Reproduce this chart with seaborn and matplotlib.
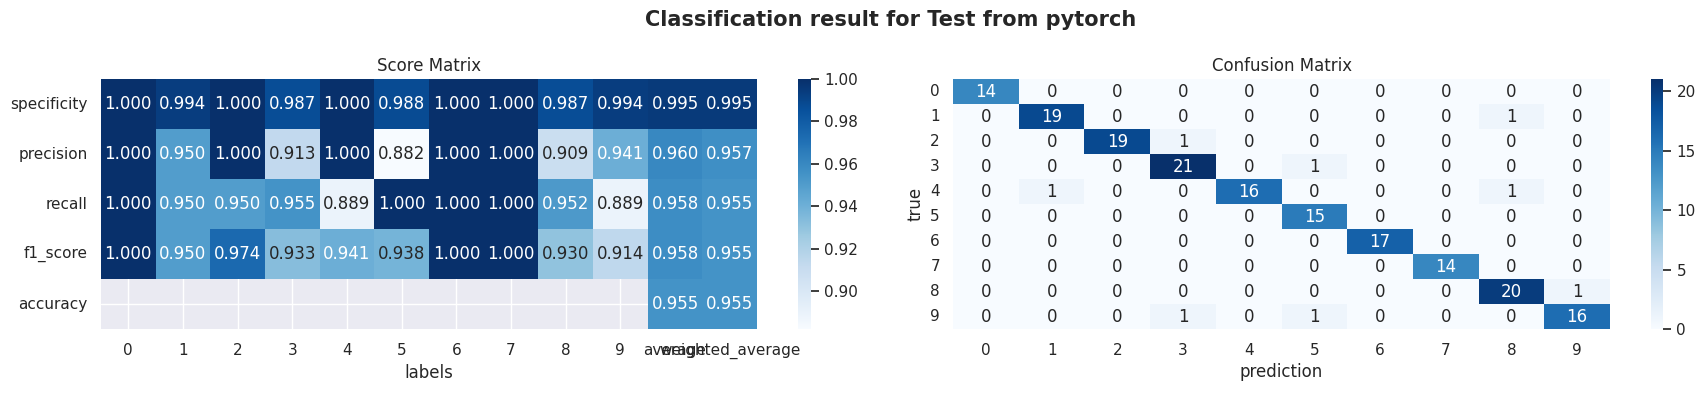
import numpy as np
import pandas as pd
import matplotlib
matplotlib.use('Agg')
import matplotlib.pyplot as plt
import seaborn as sns

sns.set_theme(style='darkgrid')

metrics = ['specificity', 'precision', 'recall', 'f1_score', 'accuracy']
labels = ['0', '1', '2', '3', '4', '5', '6', '7', '8', '9', 'average', 'weighted_average']

specificity = [1.000, 0.994, 1.000, 0.987, 1.000, 0.988, 1.000, 1.000, 0.987, 0.994, 0.995, 0.995]
precision = [1.000, 0.950, 1.000, 0.913, 1.000, 0.882, 1.000, 1.000, 0.909, 0.941, 0.960, 0.957]
recall = [1.000, 0.950, 0.950, 0.955, 0.889, 1.000, 1.000, 1.000, 0.952, 0.889, 0.958, 0.955]
f1_score = [1.000, 0.950, 0.974, 0.933, 0.941, 0.938, 1.000, 1.000, 0.930, 0.914, 0.958, 0.955]
accuracy = [np.nan] * 10 + [0.955, 0.955]

classes = ['0', '1', '2', '3', '4', '5', '6', '7', '8', '9']
confusion = [
    [14, 0, 0, 0, 0, 0, 0, 0, 0, 0],
    [0, 19, 0, 0, 0, 0, 0, 0, 1, 0],
    [0, 0, 19, 1, 0, 0, 0, 0, 0, 0],
    [0, 0, 0, 21, 0, 1, 0, 0, 0, 0],
    [0, 1, 0, 0, 16, 0, 0, 0, 1, 0],
    [0, 0, 0, 0, 0, 15, 0, 0, 0, 0],
    [0, 0, 0, 0, 0, 0, 17, 0, 0, 0],
    [0, 0, 0, 0, 0, 0, 0, 14, 0, 0],
    [0, 0, 0, 0, 0, 0, 0, 0, 20, 1],
    [0, 0, 0, 1, 0, 1, 0, 0, 0, 16],
]

scores = pd.DataFrame([specificity, precision, recall, f1_score, accuracy],
                      index=metrics, columns=labels)
cm = pd.DataFrame(confusion, index=classes, columns=classes)

fig = plt.figure(figsize=(17.05, 3.93))
ax1 = fig.add_axes([0.0592, 0.162, 0.3848, 0.637])
cax1 = fig.add_axes([0.468, 0.162, 0.0076, 0.637])
ax2 = fig.add_axes([0.559, 0.162, 0.3853, 0.637])
cax2 = fig.add_axes([0.9683, 0.162, 0.0072, 0.637])

sns.heatmap(scores, annot=True, fmt='.3f', cmap='Blues', ax=ax1, cbar_ax=cax1)
ax1.set_title('Score Matrix')
ax1.set_xlabel('labels')
ax1.tick_params(axis='y', rotation=0)
ax1.tick_params(axis='x', rotation=0)

sns.heatmap(cm, annot=True, fmt='d', cmap='Blues', ax=ax2, cbar_ax=cax2)
ax2.set_title('Confusion Matrix')
ax2.set_xlabel('prediction')
ax2.set_ylabel('true')
ax2.tick_params(axis='y', rotation=0)

fig.suptitle('Classification result for Test from pytorch', fontsize=15, fontweight='bold',
             x=0.5226, y=0.975)
plt.savefig('out.png', dpi=100)
